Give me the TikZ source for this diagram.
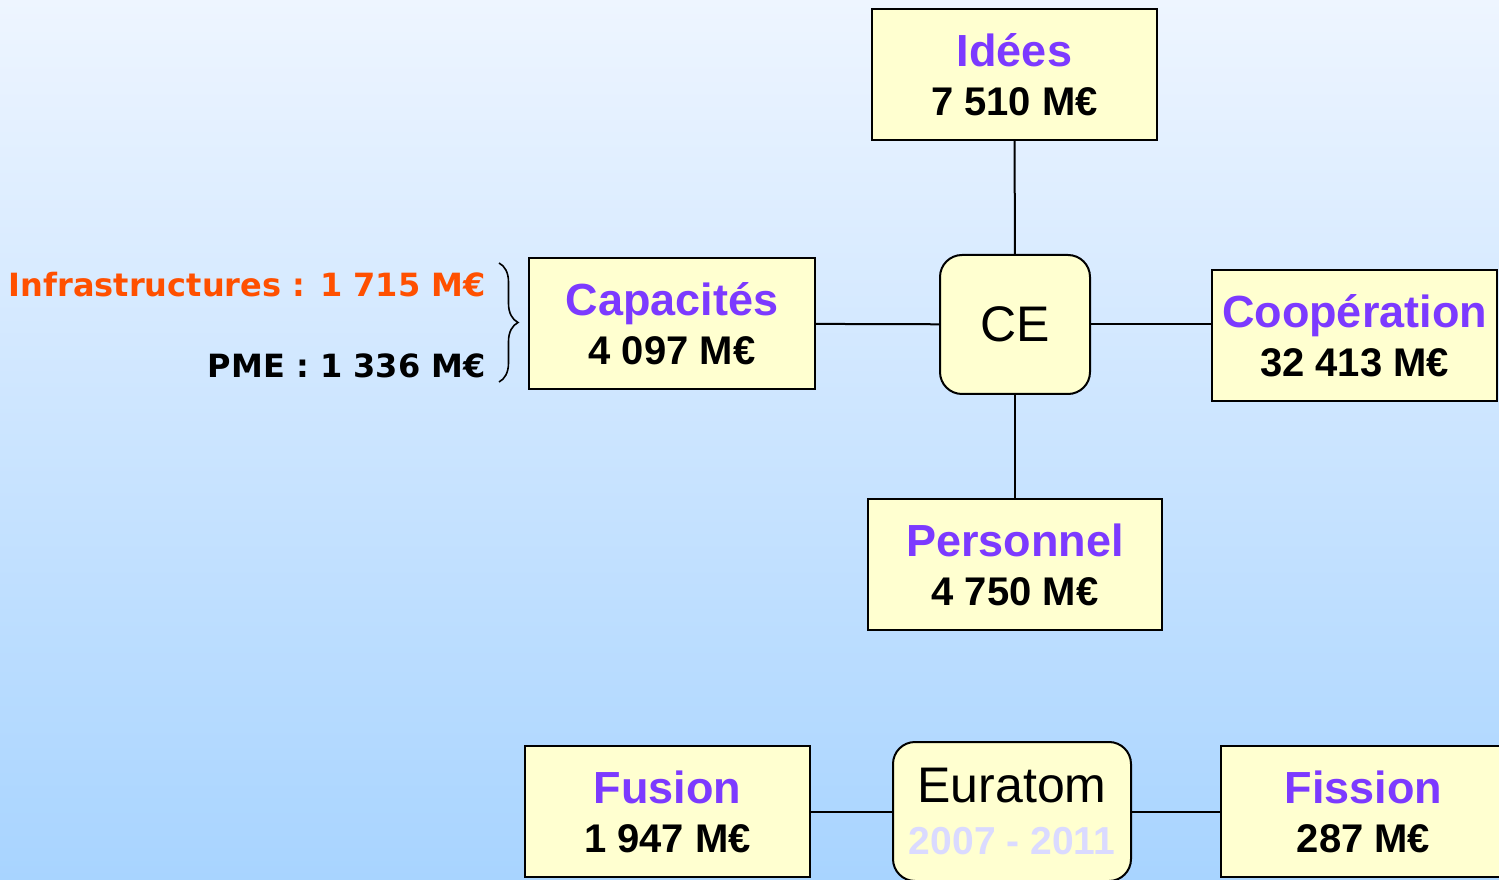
\documentclass[tikz,border=0pt]{standalone}
\usepackage{fontspec}
\setmainfont{Liberation Sans}
\newfontfamily\verdana{DejaVu Sans}
\usetikzlibrary{decorations.pathreplacing}
\definecolor{fondhaut}{RGB}{238,245,255}
\definecolor{fondbas}{RGB}{168,212,255}
\definecolor{jaunepale}{RGB}{255,255,208}
\definecolor{violetpc}{RGB}{124,58,255}
\definecolor{orangepc}{RGB}{255,80,0}
\definecolor{datepc}{RGB}{218,218,255}
\newcommand{\ptitre}[1]{{\fontsize{22.5pt}{24.5pt}\selectfont\color{violetpc}#1}}

\begin{document}
\begin{tikzpicture}[x=0.5pt,y=0.5pt,
  bloc/.style={draw,line width=1pt,fill=jaunepale,minimum width=142.5pt,minimum height=65.5pt,
    align=center,inner sep=0pt,font=\fontsize{20pt}{24.5pt}\selectfont\bfseries},
  centre/.style={draw,line width=1pt,fill=jaunepale,rounded corners=11pt,minimum width=75pt,
    minimum height=69.5pt,align=center,inner sep=0pt,font=\fontsize{25pt}{26pt}\selectfont},
  cote/.style={anchor=east,inner sep=0pt,font=\verdana\bfseries\fontsize{16pt}{18pt}\selectfont}]
\useasboundingbox (0,0) rectangle (1499,879);
\clip (0,0) rectangle (1499,879);
\shade[top color=fondhaut,bottom color=fondbas] (0,0) rectangle (1499,879);
% programme cadre
\node[centre] (ce) at (1015,554.5) {CE};
\node[bloc] (idees) at (1014.5,804.5) {\ptitre{Idées}\\7 510 M€};
\node[bloc,minimum width=143pt] (capa) at (672,555.5) {\ptitre{Capacités}\\4 097 M€};
\node[bloc] (coop) at (1354.5,543.5) {\ptitre{Coopération}\\32 413 M€};
\node[bloc,minimum width=147pt] (pers) at (1015,314.5) {\ptitre{Personnel}\\4 750 M€};
\draw[line width=1pt] (idees) -- (ce);
\draw[line width=1pt] (capa) -- (ce);
\draw[line width=1pt] (ce.east) -- (ce.east -| coop.west);
\draw[line width=1pt] (ce) -- (pers);
% detail capacites
\node[cote,text=orangepc] (infra) at (486,594) {Infrastructures : 1 715 M€};
\node[cote] (pme) at (486,513) {PME : 1 336 M€};
\coordinate (accH) at (499,616);
\coordinate (accB) at (499,497);
\draw[line width=0.8pt,decorate,decoration={brace,amplitude=9.5pt}] (accH) -- (accB);
% euratom
\node[centre,minimum width=119pt] (eur) at (1012,67.5) {Euratom\\{\fontsize{19.5pt}{26pt}\selectfont\bfseries\color{datepc}2007 - 2011}};
\node[bloc] (fusion) at (667.5,67.5) {\ptitre{Fusion}\\1 947 M€};
\node[bloc] (fission) at (1363.5,67.5) {\ptitre{Fission}\\287 M€};
\draw[line width=1pt] (fusion) -- (eur);
\draw[line width=1pt] (eur) -- (fission);
\end{tikzpicture}
\end{document}
